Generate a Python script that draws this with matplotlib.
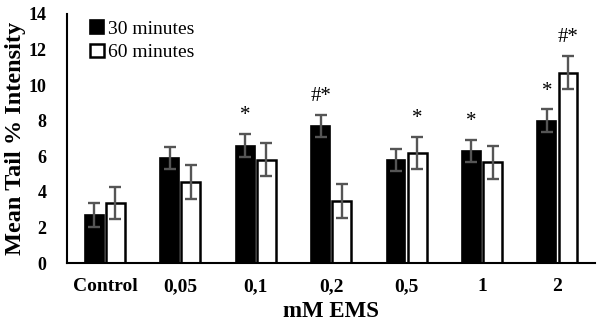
import numpy as np
import matplotlib as mpl
mpl.use('Agg')
from matplotlib import pyplot as plt

# %% Data
groups = ['Control', '0,05', '0,1', '0,2', '0,5', '1', '2']
mean_30 = [2.7, 5.9, 6.6, 7.7, 5.8, 6.3, 8.0]
err_30 = [0.65, 0.64, 0.64, 0.63, 0.62, 0.64, 0.63]
mean_60 = [3.4, 4.55, 5.8, 3.5, 6.2, 5.65, 10.7]
err_60 = [0.9, 0.94, 0.93, 0.94, 0.91, 0.93, 0.92]
marks_30 = ['', '', '*', '#*', '', '*', '*']
marks_60 = ['', '', '', '', '*', '', '#*']

plt.rcParams['font.family'] = ['Liberation Serif', 'DejaVu Serif']

# %% Plot
fig = plt.figure(figsize=(6.0, 3.22), dpi=100)
ax = fig.add_axes([0.112, 0.183, 0.88, 0.774])

x = np.arange(len(groups))
w = 0.25
off = 0.14
ekw = dict(ecolor='#555555', elinewidth=1.7, capsize=4.5, capthick=1.7)
ax.bar(x - off, mean_30, w, color='black', edgecolor='black', linewidth=1.2,
       yerr=err_30, error_kw=ekw, label='30 minutes', zorder=2)
ax.bar(x + off, mean_60, w, color='white', edgecolor='black', linewidth=1.8,
       yerr=err_60, error_kw=ekw, label='60 minutes', zorder=2)

# Significance marks
for i in range(len(groups)):
    if marks_30[i]:
        ax.text(x[i] - off, mean_30[i] + err_30[i] + 0.5, marks_30[i],
                ha='center', va='bottom', fontsize=15)
    if marks_60[i]:
        ax.text(x[i] + off, mean_60[i] + err_60[i] + 0.5, marks_60[i],
                ha='center', va='bottom', fontsize=15)

ax.set_xlim(-0.5, 6.5)
ax.set_ylim(0, 14)
ax.set_yticks(np.arange(0, 15, 2))
ax.set_xticks(x)
ax.set_xticklabels(groups)
ax.tick_params(axis='both', length=0)
ax.tick_params(axis='x', labelsize=14, pad=11)
ax.tick_params(axis='y', labelsize=13, pad=15)
for lab in ax.get_xticklabels() + ax.get_yticklabels():
    lab.set_fontweight('bold')

for s in ['top', 'right']:
    ax.spines[s].set_visible(False)
for s in ['left', 'bottom']:
    ax.spines[s].set_linewidth(1.5)

ax.set_xlabel('mM EMS', fontsize=16.5, fontweight='bold', labelpad=4)
ax.set_ylabel('Mean Tail % Intensity', fontsize=17.5, fontweight='bold',
              labelpad=2)

ax.legend(loc='upper left', bbox_to_anchor=(0.01, 1.045), frameon=False,
          fontsize=14, handlelength=0.7, handleheight=0.7,
          handletextpad=0.25, labelspacing=0.3)

plt.savefig('out.png')
plt.close()
